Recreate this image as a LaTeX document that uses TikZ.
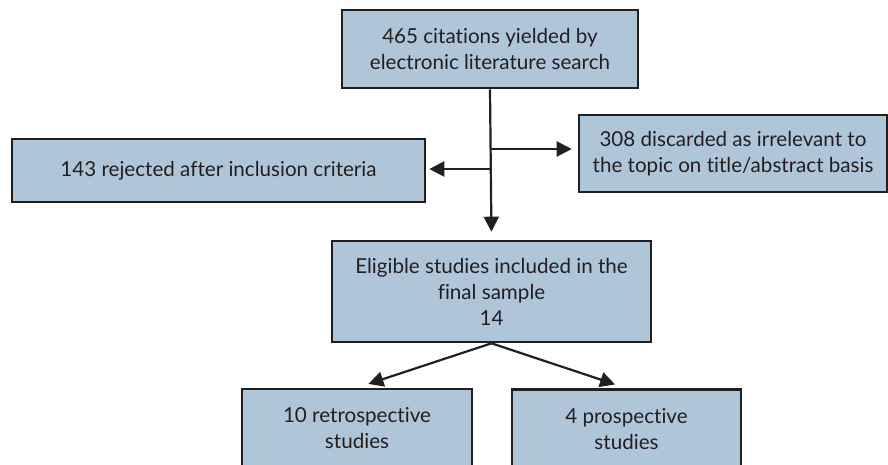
\documentclass[tikz,border=0pt]{standalone}
\usepackage{fontspec}
\setmainfont{Lato}[Ligatures={NoCommon}]
\usetikzlibrary{arrows.meta}
\definecolor{boxblue}{RGB}{175,198,216}
\definecolor{inkgray}{RGB}{35,31,32}
\tikzset{every picture/.style={line width=2.2pt}}
\tikzset{flow box/.style={rectangle, draw=inkgray, line width=2.6pt, fill=boxblue, text=inkgray, align=center, inner sep=0pt, font=\fontsize{20.6}{26}\selectfont}}
\tikzset{flow arrow/.style={draw=inkgray, -{Triangle[length=15pt,width=15pt]}}}

\begin{document}
\begin{tikzpicture}[x=1pt,y=-1pt]
        \useasboundingbox (0,0) rectangle (888,465);
        \node[flow box, minimum width=296pt, minimum height=78pt] (search) at (490,49) {465 citations yielded by\\electronic literature search};
        \node[flow box, minimum width=413pt, minimum height=63pt] (rejected) at (218.5,170.5) {143 rejected after inclusion criteria};
        \node[flow box, minimum width=308pt, minimum height=77pt] (discarded) at (733,153.5) {308 discarded as irrelevant to\\the topic on title/abstract basis};
        \node[flow box, minimum width=319pt, minimum height=101pt] (eligible) at (491.5,291.5) {Eligible studies included in the\\final sample\\14};
        \node[flow box, minimum width=230pt, minimum height=79pt] (retro) at (357,428.5) {10 retrospective\\studies};
        \node[flow box, minimum width=229pt, minimum height=79pt] (prosp) at (626.5,429) {4 prospective\\studies};
        \coordinate (forkR) at (491,149);
        \coordinate (forkL) at (491,169);
        \draw[flow arrow, shorten >=8pt] (search.south) -- (eligible.north);
        \draw[flow arrow, shorten >=6pt] (forkR) -- (forkR -| discarded.west);
        \draw[flow arrow, shorten >=3pt] (forkL) -- (forkL -| rejected.east);
        \draw[flow arrow, shorten >=12pt] (eligible.south) -- (retro.north);
        \draw[flow arrow, shorten >=12pt] (eligible.south) -- (prosp.north);
    \end{tikzpicture}
\end{document}
